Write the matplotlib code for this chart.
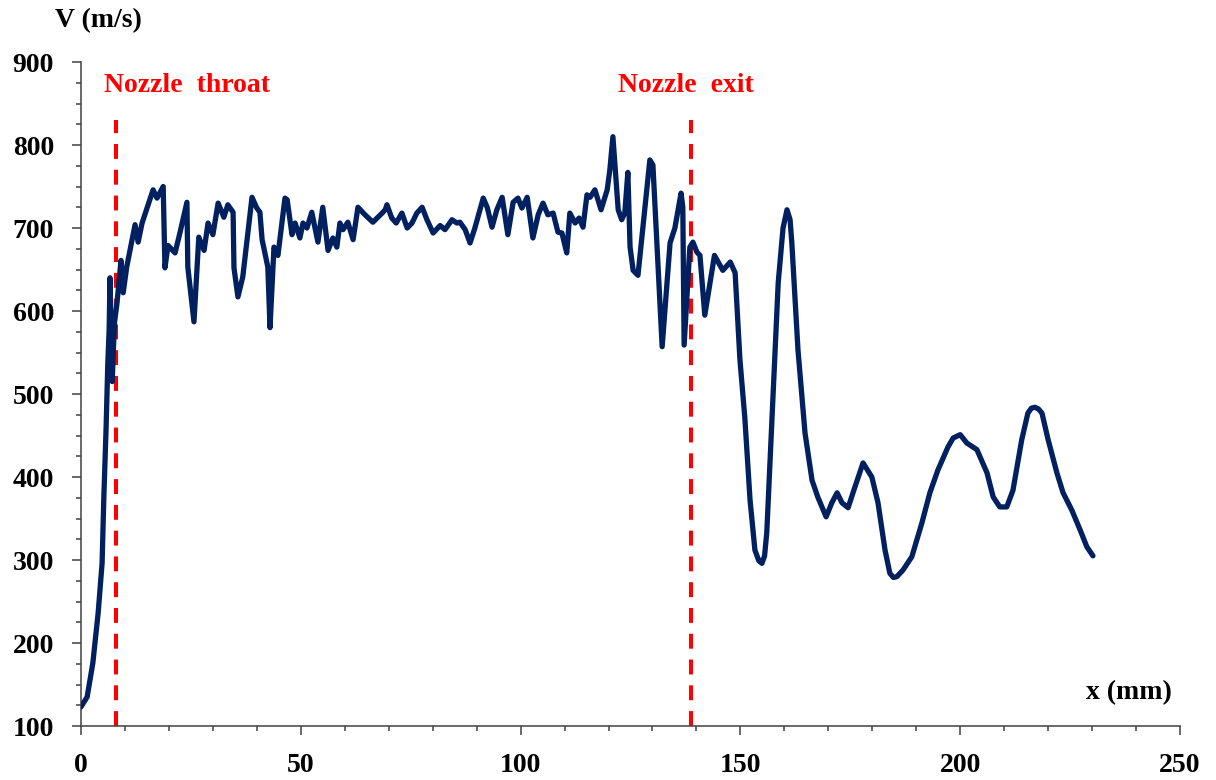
import matplotlib.pyplot as plt
from matplotlib.ticker import MultipleLocator

# Velocity along the nozzle axis
x_mm = [0.0, 1.4, 2.7, 3.9, 4.8, 5.2, 5.7, 6.1, 6.4, 6.6, 7.1, 7.6, 8.2, 9.1, 9.6,
        10.4, 12.3, 13.0, 13.9, 16.4, 17.3, 18.7, 19.1, 19.8, 21.4, 22.5, 24.1, 24.3,
        25.7, 26.8, 28.0, 28.9, 30.0, 31.2, 32.5, 33.4, 34.6, 34.8, 35.7, 36.8, 38.9,
        40.0, 40.7, 41.2, 42.5, 43.0, 43.9, 44.8, 46.4, 46.9, 48.0, 48.7, 49.8, 50.5,
        51.4, 52.5, 53.9, 55.0, 56.2, 57.3, 58.2, 58.9, 59.6, 60.7, 61.9, 63.0, 64.6,
        66.4, 68.5, 69.2, 69.6, 70.7, 71.7, 73.0, 74.2, 75.3, 76.4, 77.6, 78.7, 80.1,
        81.7, 82.8, 84.4, 85.5, 86.2, 87.4, 88.5, 89.6, 91.5, 92.4, 93.5, 94.6, 95.8,
        97.1, 98.3, 99.4, 100.3, 101.5, 102.8, 104.0, 105.1, 106.2, 107.4, 108.5, 109.4,
        110.5, 111.2, 112.4, 113.3, 114.2, 115.1, 115.8, 116.9, 118.3, 119.7, 120.3,
        121.0, 122.2, 123.0, 123.7, 124.4, 124.9, 125.6, 126.7, 129.4, 130.1, 132.2,
        134.0, 135.1, 136.5, 136.9, 137.2, 138.5, 139.2, 140.1, 140.8, 141.9, 144.1,
        146.0, 147.7, 148.8, 149.9, 151.0, 152.2, 153.3, 154.2, 154.9, 155.5, 156.0,
        157.2, 158.6, 159.7, 160.6, 161.3, 161.7, 163.1, 164.7, 166.3, 167.6, 169.5,
        170.8, 172.0, 173.1, 174.5, 175.8, 177.9, 179.9, 181.3, 182.9, 184.0, 184.8,
        185.6, 187.0, 189.0, 191.3, 193.1, 194.9, 197.2, 198.4, 200.0, 201.5, 203.8,
        206.1, 207.5, 209.0, 210.6, 212.0, 214.0, 215.4, 216.2, 217.0, 217.8, 218.6,
        220.0, 222.0, 223.4, 225.4, 227.3, 228.8, 230.2]
v_ms = [123, 135, 176, 236, 296, 376, 457, 537, 577, 640, 515, 585, 610, 661, 622,
        653, 704, 683, 706, 746, 736, 750, 652, 679, 670, 694, 731, 653,
        587, 689, 673, 706, 692, 730, 713, 728, 719, 652, 617, 641, 737,
        724, 719, 686, 653, 580, 677, 667, 736, 734, 692, 706, 688, 706,
        700, 719, 683, 725, 673, 688, 677, 706, 698, 707, 686, 725, 716,
        707, 718, 722, 728, 712, 706, 718, 700, 706, 718, 725, 710, 694,
        703, 698, 710, 706, 707, 698, 682, 700, 736, 725, 701, 722, 737,
        692, 731, 736, 724, 737, 688, 716, 730, 716, 718, 695, 694,
        670, 718, 706, 712, 701, 740, 737, 746, 722, 746, 770,
        810, 722, 710, 718, 767, 677, 649, 643, 782, 776, 557,
        682, 700, 742, 725, 559, 677, 683, 671, 667, 595, 667,
        649, 659, 646, 541, 472, 372, 312, 299, 296, 305, 333,
        472, 634, 700, 722, 710, 682, 553, 453, 396, 376, 352,
        369, 381, 369, 363, 384, 417, 400, 369, 312, 284, 279,
        280, 288, 304, 345, 381, 408, 436, 447, 451, 441, 433,
        405, 376, 364, 364, 384, 445, 477, 483, 484, 482, 477,
        445, 405, 381, 360, 336, 316, 305]

throat_x = 8
exit_x = 138.8
marker_top = 830

plt.rcParams['font.family'] = ['Liberation Serif', 'DejaVu Serif']
plt.rcParams['font.weight'] = 'bold'

fig = plt.figure(figsize=(12.16, 7.80), dpi=100)
ax = fig.add_axes([0.0666, 0.0692, 0.9038, 0.8513])

# Velocity curve
ax.plot(x_mm, v_ms, color='#002060', linewidth=3.8, solid_joinstyle='round',
        solid_capstyle='round', zorder=3)

# Nozzle throat / exit markers (dashes are scaled by the line width)
for xv in (throat_x, exit_x):
    ax.plot([xv, xv], [100, marker_top], color='#FF0000', linewidth=2.9,
            dashes=(3.7, 2.7), zorder=2)

ax.text(5.2, 872, 'Nozzle  throat', color='#FF0000', fontsize=20,
        fontweight='bold', ha='left', va='center')
ax.text(122.2, 872, 'Nozzle  exit', color='#FF0000', fontsize=20,
        fontweight='bold', ha='left', va='center')

# Axis labels placed like the original
ax.text(248.2, 140, 'x (mm)', fontsize=20, fontweight='bold', ha='right', va='center')
fig.text(55 / 1216, 1 - 21 / 780, 'V (m/s)', fontsize=20, fontweight='bold',
         ha='left', va='center')

ax.set_xlim(0, 250)
ax.set_ylim(100, 900)
ax.xaxis.set_major_locator(MultipleLocator(50))
ax.xaxis.set_minor_locator(MultipleLocator(10))
ax.yaxis.set_major_locator(MultipleLocator(100))
ax.yaxis.set_minor_locator(MultipleLocator(25))

ax.spines['top'].set_visible(False)
ax.spines['right'].set_visible(False)
for s in ('left', 'bottom'):
    ax.spines[s].set_linewidth(1.1)
    ax.spines[s].set_color('#404040')

ax.tick_params(which='major', length=6.5, width=1.1, color='#404040',
               labelsize=20, pad=13)
ax.tick_params(which='minor', length=3.6, width=1.1, color='#404040')
for lbl in ax.get_xticklabels() + ax.get_yticklabels():
    lbl.set_fontweight('bold')

plt.savefig('out.png', dpi=100)
